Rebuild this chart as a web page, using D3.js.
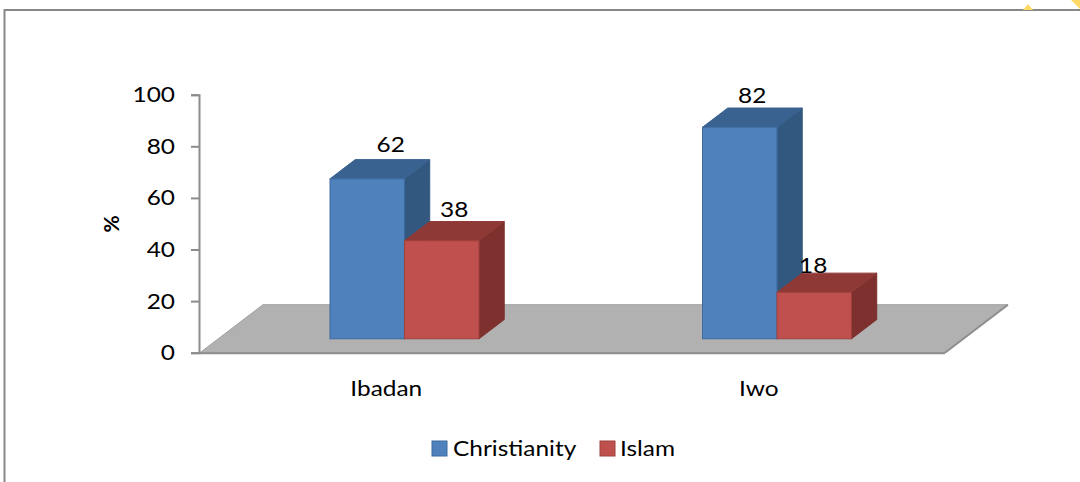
<!DOCTYPE html>
<html>
<head>
<meta charset="utf-8">
<script src="https://cdn.jsdelivr.net/npm/d3@7"></script>
<style>
  html, body { margin: 0; padding: 0; background: #fff; }
  svg { display: block; }
  text { font-family: Lato, "Open Sans", sans-serif; fill: #000; }
</style>
</head>
<body>
<svg id="chart" width="1080" height="482"></svg>
<script>
// Religious affiliation by city (%)
const cities = ["Ibadan", "Iwo"];
const religions = ["Christianity", "Islam"];
const christianity = [62, 82];   // Ibadan, Iwo
const islam = [38, 18];
const yTicks = [0, 20, 40, 60, 80, 100];

const colors = {
  Christianity: { front: "#4f81bd", top: "#3a6290", side: "#33587f", edge: "#3d6a9e" },
  Islam:        { front: "#c0504d", top: "#8f3937", side: "#7d302e", edge: "#a0403d" }
};

const FONT = 22;        // text size
const STRETCH = 1.11;   // slightly wide lettering

const svg = d3.select("#chart");

// places a horizontally widened text label at (x, y)
function label(parent, x, y, str, anchor, size, weight) {
  return parent.append("text")
    .attr("transform", `translate(${x},${y}) scale(${STRETCH},1)`)
    .attr("text-anchor", anchor || "start")
    .style("font-size", (size || FONT) + "px")
    .style("font-weight", weight || "normal")
    .text(str);
}

// outer frame
svg.append("rect")
  .attr("x", 4.5).attr("y", 10).attr("width", 1200).attr("height", 600)
  .attr("fill", "none").attr("stroke", "#888").attr("stroke-width", 2);

// small yellow marks at top-right corner
svg.append("path").attr("d", "M1023,10 L1028,4 L1033,10 Z").attr("fill", "#ffd966");
svg.append("path").attr("d", "M1071,0 L1080,0 L1080,9 Z").attr("fill", "#ffd966");

// scales (front plane of the floor)
const x0 = d3.scaleBand().domain(cities).range([200, 945]);
const groupW = x0.bandwidth() * 0.4;
const groupPad = (x0.bandwidth() - groupW) / 2;
const x1 = d3.scaleBand().domain(religions).range([0, groupW]);
const y = d3.scaleLinear().domain([0, 100]).range([352.7, 94.7]);

// depth vector for the floor, and bar placement within it
const depth = [63, -48];
const barFront = 0.29, barBack = 0.69;
const off = t => [depth[0] * t, depth[1] * t];

// floor
const y0 = y(0);
const fx0 = x0.range()[0], fx1 = x0.range()[1];
const back = off(1);
svg.append("path")
  .attr("d", `M${fx0},${y0} L${fx0 + back[0]},${y0 + back[1]} L${fx1 + back[0]},${y0 + back[1]} L${fx1},${y0} Z`)
  .attr("fill", "#b1b1b1").attr("stroke", "#a0a0a0").attr("stroke-width", 1);
svg.append("line")
  .attr("x1", fx0).attr("x2", fx1).attr("y1", y0 + 0.5).attr("y2", y0 + 0.5)
  .attr("stroke", "#8e8e8e").attr("stroke-width", 2);
svg.append("line")
  .attr("x1", fx1).attr("y1", y0).attr("x2", fx1 + back[0]).attr("y2", y0 + back[1])
  .attr("stroke", "#8e8e8e").attr("stroke-width", 2);

// y axis
const yAxis = d3.axisLeft(y).tickValues(yTicks).tickSize(8).tickFormat("");
const gy = svg.append("g").attr("transform", "translate(199,0)").call(yAxis);
gy.select(".domain").attr("stroke", "#8c8c8c").attr("stroke-width", 2);
gy.selectAll(".tick line").attr("stroke", "#8c8c8c").attr("stroke-width", 2);
yTicks.forEach(t => label(svg, 175, y(t) + 7.5, t, "end"));

// y title
label(svg, 0, 0, "%", "middle", 21, "bold")
  .attr("transform", "translate(119,224) rotate(-90)");

// bars
const rows = [];
cities.forEach((c, i) => {
  rows.push({ city: c, rel: "Christianity", value: christianity[i] });
  rows.push({ city: c, rel: "Islam", value: islam[i] });
});

const pF = off(barFront), pB = off(barBack);
rows.forEach(d => {
  const col = colors[d.rel];
  const xl = x0(d.city) + groupPad + x1(d.rel) + pF[0];
  const xr = xl + x1.bandwidth();
  const yb = y(0) + pF[1];
  const yt = y(d.value) + pF[1];
  const dx = pB[0] - pF[0], dy = pB[1] - pF[1];
  const g = svg.append("g");
  // right side
  g.append("path")
    .attr("d", `M${xr},${yb} L${xr + dx},${yb + dy} L${xr + dx},${yt + dy} L${xr},${yt} Z`)
    .attr("fill", col.side).attr("stroke", col.side).attr("stroke-width", 1).attr("stroke-linejoin", "round");
  // top
  g.append("path")
    .attr("d", `M${xl},${yt} L${xl + dx},${yt + dy} L${xr + dx},${yt + dy} L${xr},${yt} Z`)
    .attr("fill", col.top).attr("stroke", col.top).attr("stroke-width", 1).attr("stroke-linejoin", "round");
  // front
  g.append("rect")
    .attr("x", xl).attr("y", yt).attr("width", xr - xl).attr("height", yb - yt)
    .attr("fill", col.front).attr("stroke", col.edge).attr("stroke-width", 1);
  d.cx = (xl + xr) / 2;
  d.backTop = yt + dy;
});

// value labels (nudged to sit over each bar's top face)
const labelNudge = [[23.5, -8], [12.5, -5], [12.5, -5], [-1, 0]];
rows.forEach((d, i) => {
  label(svg, d.cx + labelNudge[i][0], d.backTop + labelNudge[i][1], d.value, "middle");
});

// category labels
cities.forEach(c => {
  label(svg, x0(c) + x0.bandwidth() / 2, 396, c, "middle");
});

// legend
const legendItems = [
  { name: "Christianity", sx: 432, tx: 453 },
  { name: "Islam", sx: 600, tx: 620 }
];
legendItems.forEach(it => {
  svg.append("rect")
    .attr("x", it.sx).attr("y", 441).attr("width", 15).attr("height", 15)
    .attr("fill", colors[it.name].front).attr("stroke", colors[it.name].edge).attr("stroke-width", 1);
  label(svg, it.tx, 456, it.name, "start");
});
</script>
</body>
</html>
